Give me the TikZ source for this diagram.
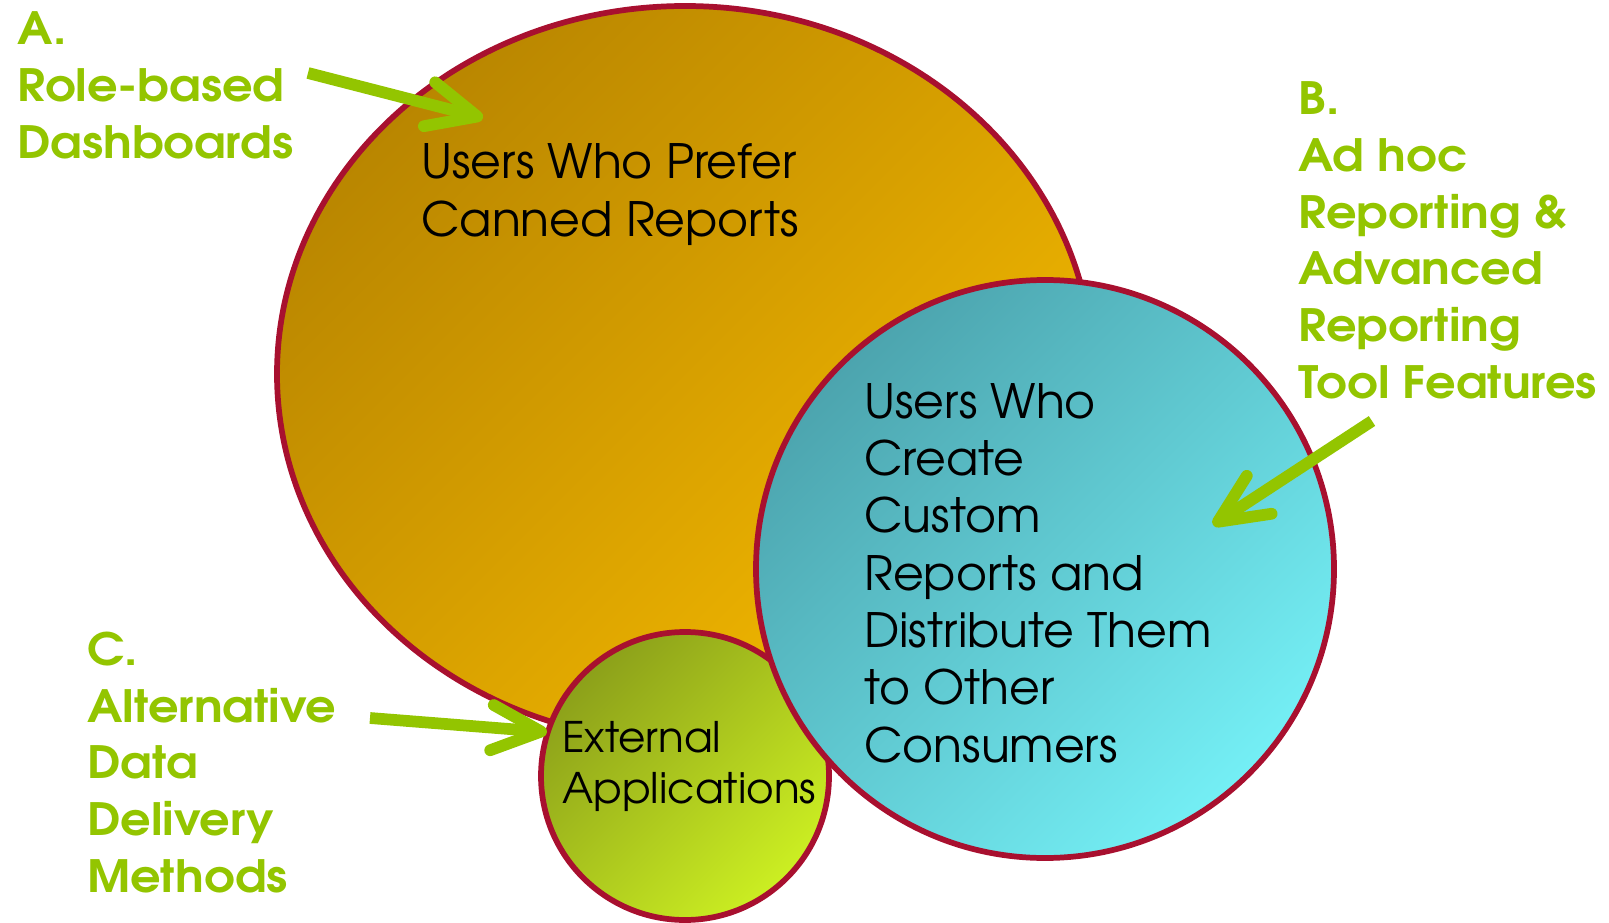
\documentclass[tikz,border=0pt]{standalone}
\usepackage{fontspec}
\usetikzlibrary{shapes.geometric,arrows.meta}
\newfontfamily\gothic{texgyreadventor}[Extension=.otf, UprightFont=*-regular, BoldFont=*-bold]
\newfontfamily\gothicwide{texgyreadventor}[Extension=.otf, UprightFont=*-bold, FakeStretch=1.075]
\definecolor{rim}{HTML}{A8102F}
\definecolor{lime}{HTML}{93C500}
\definecolor{orA}{HTML}{B98600}
\definecolor{orB}{HTML}{F4B900}
\definecolor{cyA}{HTML}{4CA4AE}
\definecolor{cyB}{HTML}{74EFF5}
\definecolor{grA}{HTML}{8CA01A}
\definecolor{grB}{HTML}{CCEF22}
\tikzset{
  rimline/.style={draw=rim, line width=4.3pt, inner sep=0pt},
  lbl/.style={anchor=north west, inner sep=0pt, align=left, text=lime,
    font=\gothicwide\fontsize{33.4}{42.5}\selectfont},
  blk/.style={anchor=north west, inner sep=0pt, align=left, text=black},
  pointer/.style={draw=lime, line width=8.8pt,
    -{Straight Barb[length=37pt, width=34pt, round]}},
}
\begin{document}
\begin{tikzpicture}[x=0.75pt, y=-0.75pt]
\useasboundingbox (0,0) rectangle (1609,923);
\node[ellipse, rimline, minimum width=612pt, minimum height=552pt,
  top color=orA, bottom color=orB, shading angle=45] (canned) at (685,374) {};
\node[circle, rimline, minimum size=216pt,
  top color=grA, bottom color=grB, shading angle=45] (ext) at (685,776) {};
\node[circle, rimline, minimum size=433.5pt,
  top color=cyA, bottom color=cyB, shading angle=45] (custom) at (1045,569) {};

\node[blk, font=\gothic\fontsize{35.5}{43.5}\selectfont] (cannedtxt) at (421,143)
  {Users Who Prefer\\Canned Reports};
\node[blk, font=\gothic\fontsize{35.5}{43}\selectfont] (customtxt) at (864,383)
  {Users Who\\Create\\Custom\\Reports and\\Distribute Them\\to Other\\Consumers};
\node[blk, font=\gothic\fontsize{31.6}{38}\selectfont] (exttxt) at (562,721)
  {External\\Applications};

\node[lbl] (labA) at (17,11.7) {A.\\Role-based\\Dashboards};
\node[lbl] (labB) at (1298,81.7) {B.\\Ad hoc\\Reporting \&\\Advanced\\Reporting\\Tool Features};
\node[lbl] (labC) at (87,631.7) {C.\\Alternative\\Data\\Delivery\\Methods};

\coordinate (aT) at (308,73);
\coordinate (aH) at (483,118);
\coordinate (bT) at (1372,421);
\coordinate (bH) at (1213,525);
\coordinate (cT) at (370,718);
\coordinate (cH) at (547,732);
\draw[pointer] (aT) -- (aH);
\draw[pointer] (bT) -- (bH);
\draw[pointer] (cT) -- (cH);
\end{tikzpicture}
\end{document}
